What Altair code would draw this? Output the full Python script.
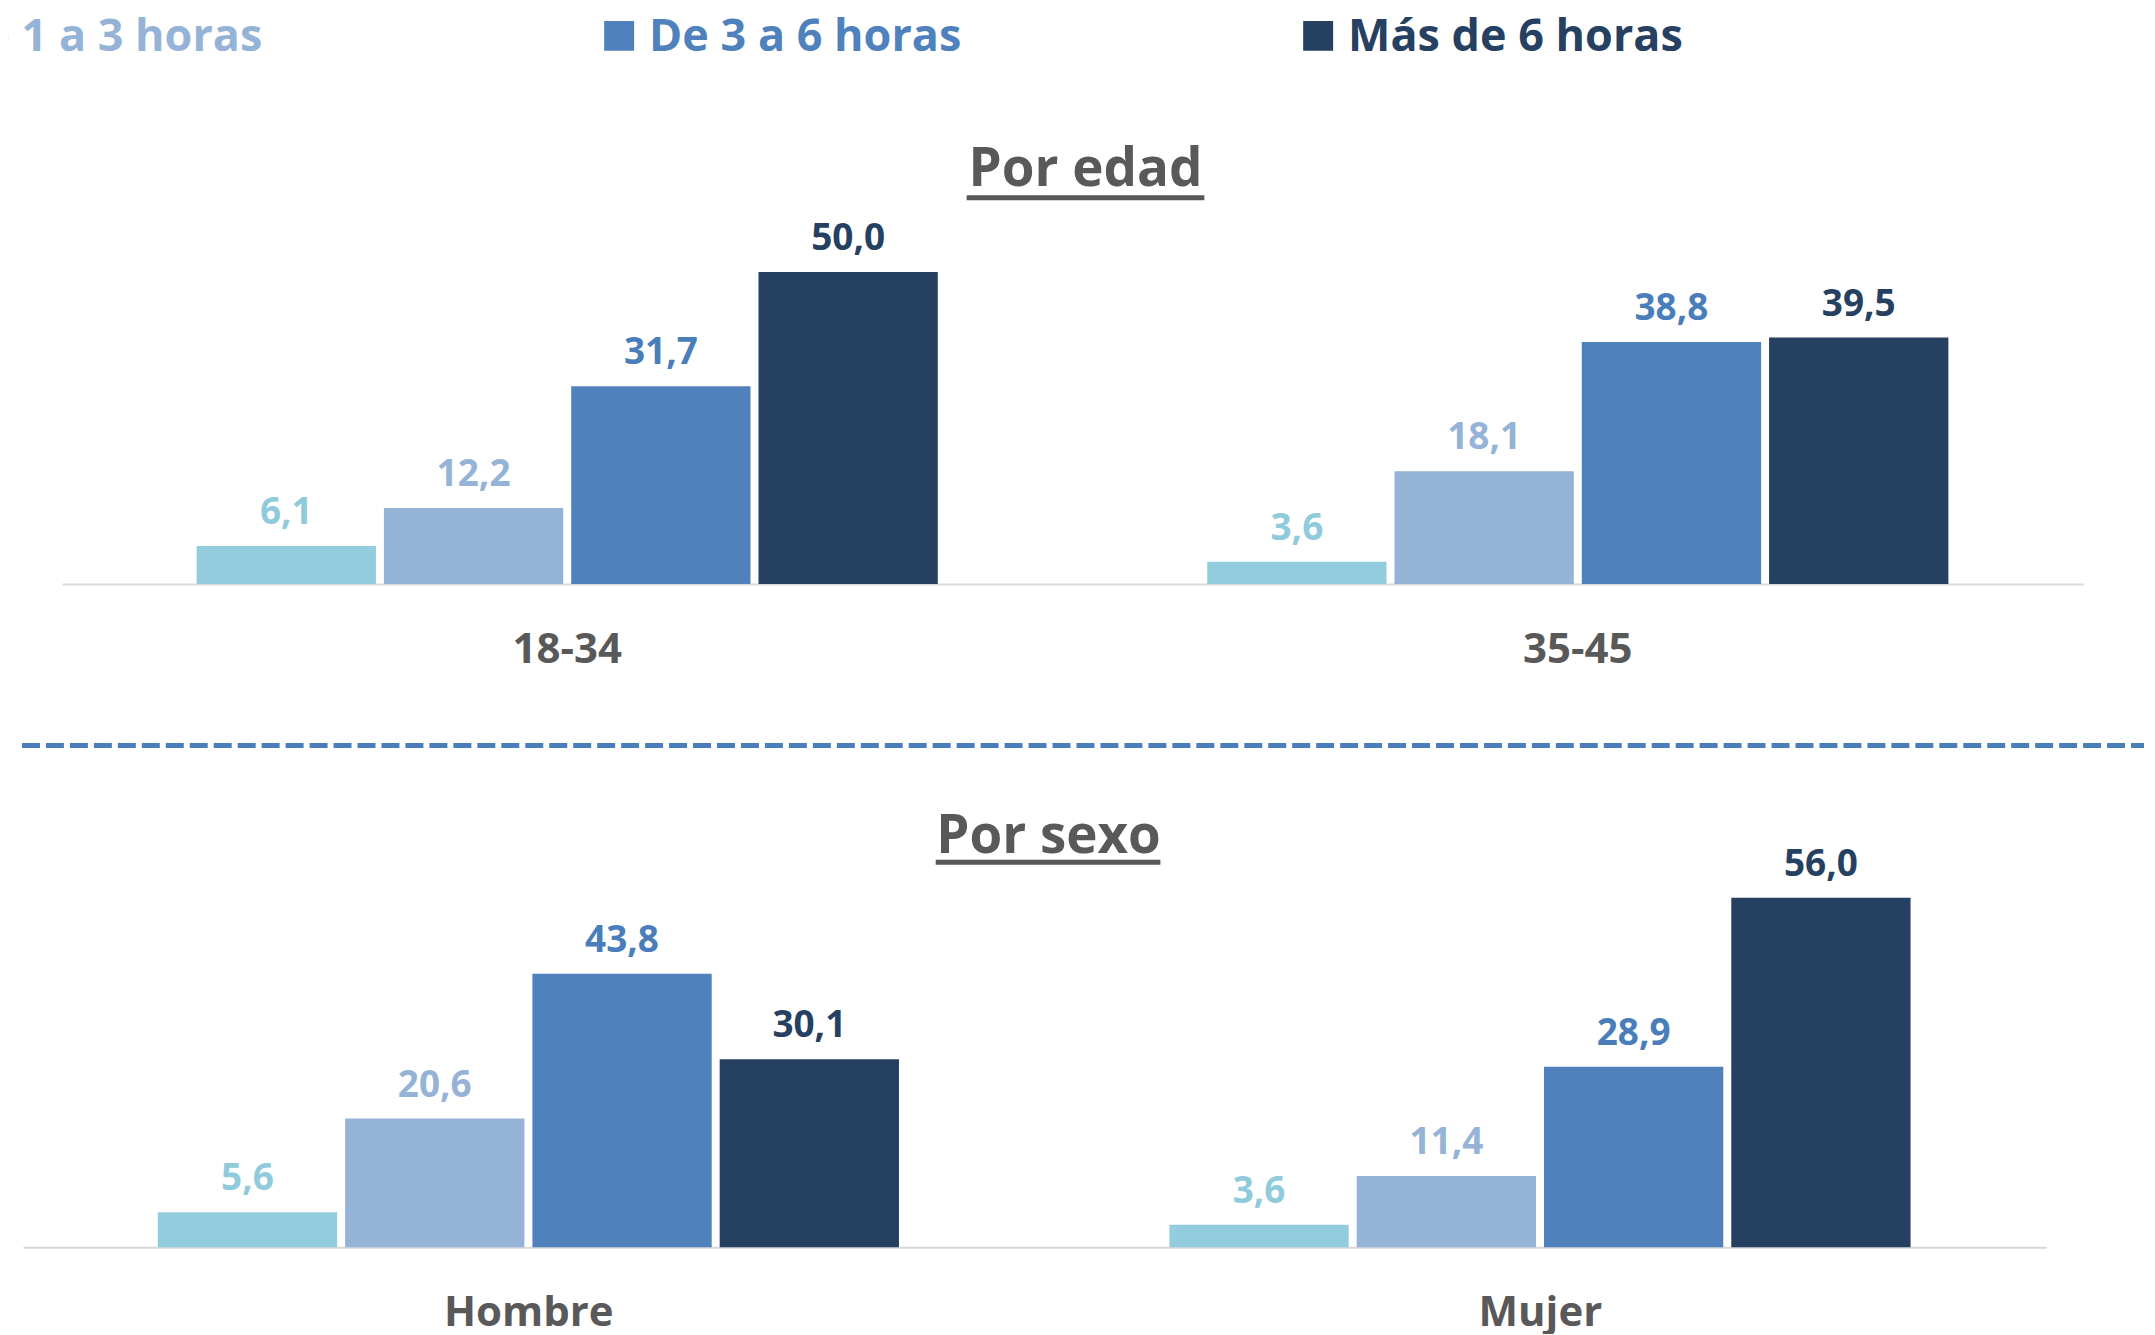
import altair as alt
import pandas as pd

# ---- data ----
series = ["Menos de 1 hora", "De 1 a 3 horas", "De 3 a 6 horas", "Más de 6 horas"]
bar_colors = ["#93CDDD", "#95B3D7", "#4F81BD", "#254061"]
label_colors = ["#8FCBDB", "#95B3D7", "#4A7EBB", "#254061"]

edad_groups = ["18-34", "35-45"]
edad_18_34 = [6.1, 12.2, 31.7, 50.0]
edad_35_45 = [3.6, 18.1, 38.8, 39.5]

sexo_groups = ["Hombre", "Mujer"]
sexo_hombre = [5.6, 20.6, 43.8, 30.1]
sexo_mujer = [3.6, 11.4, 28.9, 56.0]


def long_df(groups, value_lists):
    rows = []
    for g, vals in zip(groups, value_lists):
        for s, v, lc in zip(series, vals, label_colors):
            rows.append({"grupo": g, "serie": s, "valor": v, "lcolor": lc})
    return pd.DataFrame(rows)


df_edad = long_df(edad_groups, [edad_18_34, edad_35_45])
df_sexo = long_df(sexo_groups, [sexo_hombre, sexo_mujer])

W = 2139
FONT = "Open Sans"
GREY = "#595959"


def panel(df, groups, title, dx, dy, xrange, ul):
    base = alt.Chart(df).encode(
        x=alt.X(
            "grupo:N",
            sort=groups,
            scale=alt.Scale(range=xrange, paddingInner=0.2666, paddingOuter=0.1333),
            axis=alt.Axis(
                title=None,
                labelFont=FONT,
                labelFontWeight="bold",
                labelFontSize=42,
                labelColor=GREY,
                labelPadding=78,
                labelBaseline="alphabetic",
                labelAngle=0,
                ticks=False,
                tickSize=0,
                domainColor="#D9D9D9",
                domainWidth=2,
                grid=False,
            ),
        ),
        xOffset=alt.XOffset(
            "serie:N",
            sort=series,
            scale=alt.Scale(domain=series, paddingInner=0.0426, paddingOuter=0),
        ),
        y=alt.Y("valor:Q", scale=alt.Scale(domain=[0, 60], nice=False), axis=None),
    )
    bars = base.mark_bar().encode(
        color=alt.Color(
            "serie:N", scale=alt.Scale(domain=series, range=bar_colors), legend=None
        )
    )
    labels = (
        base.transform_calculate(
            etiqueta="replace(format(datum.valor, '.1f'), '.', ',')"
        )
        .mark_text(
            font=FONT, fontWeight="bold", fontSize=37, baseline="alphabetic", dy=-22
        )
        .encode(text="etiqueta:N", color=alt.Color("lcolor:N", scale=None))
    )
    underline = (
        alt.Chart(alt.Data(values=[{}]))
        .mark_rule(color=GREY, strokeWidth=5)
        .encode(x=alt.value(ul[0]), x2=alt.value(ul[1]), y=alt.value(ul[2]))
    )
    return alt.layer(bars, labels, underline).properties(
        width=W,
        height=375,
        title=alt.TitleParams(
            title,
            font=FONT,
            fontWeight="bold",
            fontSize=53,
            color=GREY,
            anchor="middle",
            frame="group",
            dx=dx,
            dy=dy,
            offset=0,
        ),
    )


# ---- legend row ----
leg_df = pd.DataFrame({"serie": series, "color": bar_colors, "tcolor": bar_colors})
leg_x = alt.X(
    "serie:N",
    sort=series,
    scale=alt.Scale(type="point", range=[-803, 1297], padding=0),
    axis=None,
)
leg_sq = (
    alt.Chart(leg_df)
    .mark_square(size=900, opacity=1, filled=True, xOffset=15, clip=True)
    .encode(x=leg_x, y=alt.value(27), color=alt.Color("color:N", scale=None))
)
leg_tx = (
    alt.Chart(leg_df)
    .mark_text(
        align="left",
        baseline="alphabetic",
        dx=45,
        font=FONT,
        fontWeight="bold",
        fontSize=45,
        clip=True,
    )
    .encode(
        x=leg_x, y=alt.value(42), text="serie:N", color=alt.Color("tcolor:N", scale=None)
    )
)
legend_row = alt.layer(leg_sq, leg_tx).properties(width=W, height=201)

# ---- panels ----
p1 = panel(df_edad, edad_groups, "Por edad", 9.5, 2, [54, 2078], [960, 1198, -12])
sep = (
    alt.Chart(alt.Data(values=[{}]))
    .mark_rule(color="#4A7EBB", strokeWidth=5, strokeDash=[18, 6])
    .encode(x=alt.value(14), x2=alt.value(W), y=alt.value(161.7))
    .properties(width=W, height=288.5)
)
p2 = panel(df_sexo, sexo_groups, "Por sexo", -27.5, 18, [15, 2041], [929, 1154, -10.5])

chart = (
    alt.concat(legend_row, p1, sep, p2, columns=1, spacing=0, bounds="flush")
    .properties(padding=0, background="white")
    .configure_view(stroke=None)
)

chart.save("out.html", embed_options={"renderer": "svg", "actions": False})
